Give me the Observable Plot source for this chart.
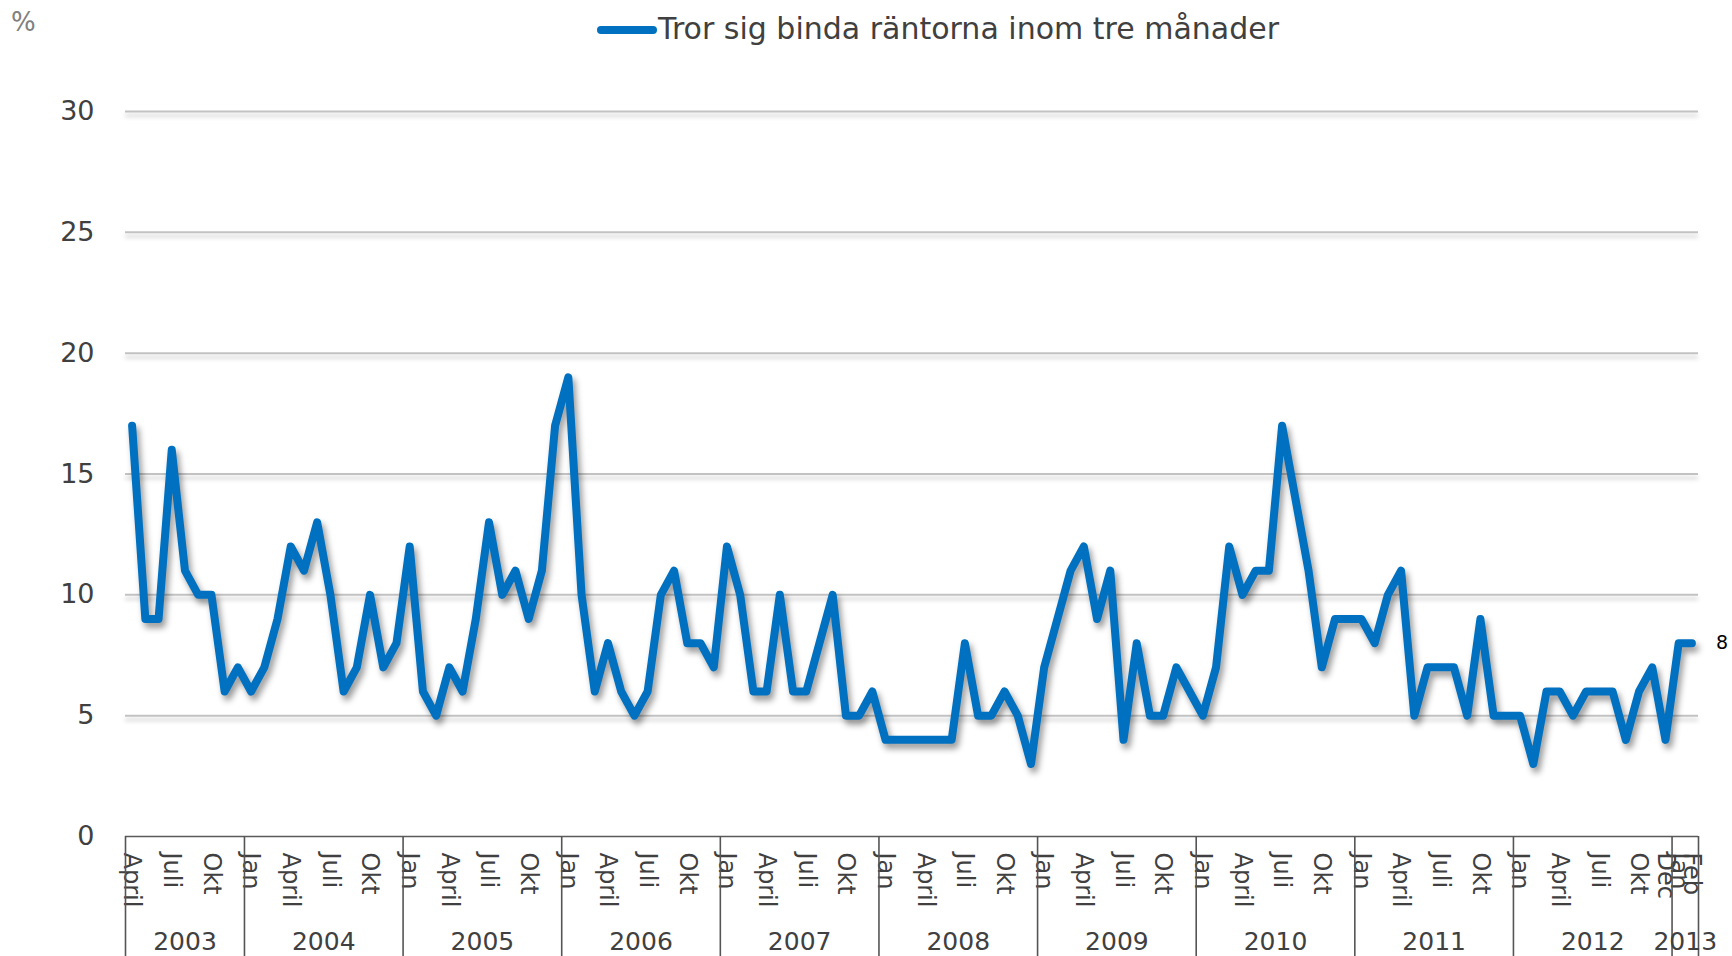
<!DOCTYPE html>
<html>
<head>
<meta charset="utf-8">
<script src="https://cdn.jsdelivr.net/npm/d3@7"></script>
<script src="https://cdn.jsdelivr.net/npm/@observablehq/plot@0.6"></script>
<style>
  html, body { margin: 0; padding: 0; background: #fff; }
  body { font-family: "DejaVu Sans", Verdana, sans-serif; }
  #wrap { width: 1732px; }
  #head { position: relative; height: 60px; }
  #pct { position: absolute; left: 11px; top: 9px; font-size: 26px; line-height: 26px; color: #808080; }
  #swatch { position: absolute; left: 597px; top: 26px; width: 60px; height: 8px; border-radius: 4px; background: #0070C0; }
  #legtext { position: absolute; left: 658px; top: 14px; font-size: 30px; line-height: 30px; color: #404040; white-space: nowrap; }
  #chart svg { display: block; overflow: visible; }
</style>
</head>
<body>
<div id="wrap">
  <div id="head">
    <div id="pct">%</div>
    <div id="swatch"></div>
    <div id="legtext"></div>
  </div>
  <div id="chart"></div>
</div>
<script>
// ---- data ----
const seriesName = "Tror sig binda räntorna inom tre månader";
const unitLabel = "%";
const startYear = 2003;
const startMonth = 3; // April (0-based month index)
const values = [
  17, 9, 9, 16, 11, 10, 10, 6, 7,                 // 2003 Apr-Dec
  6, 7, 9, 12, 11, 13, 10, 6, 7, 10, 7, 8,        // 2004
  12, 6, 5, 7, 6, 9, 13, 10, 11, 9, 11, 17,       // 2005
  19, 10, 6, 8, 6, 5, 6, 10, 11, 8, 8, 7,         // 2006
  12, 10, 6, 6, 10, 6, 6, 8, 10, 5, 5, 6,         // 2007
  4, 4, 4, 4, 4, 4, 8, 5, 5, 6, 5, 3,             // 2008
  7, 9, 11, 12, 9, 11, 4, 8, 5, 5, 7, 6,          // 2009
  5, 7, 12, 10, 11, 11, 17, 14, 11, 7, 9, 9,      // 2010
  9, 8, 10, 11, 5, 7, 7, 7, 5, 9, 5, 5,           // 2011
  5, 3, 6, 6, 5, 6, 6, 6, 4, 6, 7, 4,             // 2012
  8, 8                                            // 2013 Jan-Feb
];
const monthNames = ["Jan", "Feb", "Mars", "April", "Maj", "Juni", "Juli", "Aug", "Sep", "Okt", "Nov", "Dec"];
const years = [2003, 2004, 2005, 2006, 2007, 2008, 2009, 2010, 2011, 2012, 2013];
const yTicks = [0, 5, 10, 15, 20, 25, 30];
const gridValues = [5, 10, 15, 20, 25, 30];
const extraMonthTicks = [116, 118];

// ---- derived tables ----
const data = values.map((v, i) => ({
  i, v,
  year: startYear + Math.floor((startMonth + i) / 12),
  month: (startMonth + i) % 12
}));
const monthTicks = d3.range(0, values.length, 3).concat(extraMonthTicks);
const yearCenters = years.map(y => {
  const idx = data.filter(d => d.year === y).map(d => d.i);
  return (d3.min(idx) + d3.max(idx)) / 2;
});
const yearBounds = [-0.5].concat(years.map(y => d3.max(data.filter(d => d.year === y), d => d.i) + 0.5));

document.getElementById("pct").textContent = unitLabel;
document.getElementById("legtext").textContent = seriesName;

const last = data[data.length - 1];

const chart = Plot.plot({
  width: 1732,
  height: 896,
  marginTop: 51,
  marginBottom: 120,
  marginLeft: 125,
  marginRight: 34,
  style: { fontFamily: "DejaVu Sans, Verdana, sans-serif", background: "transparent", overflow: "visible" },
  x: { type: "linear", domain: [-0.5, values.length - 0.5] },
  y: { domain: [0, 30] },
  marks: [
    Plot.ruleY(gridValues, { stroke: "#c2c2c2", strokeWidth: 2 }),
    Plot.ruleY([0], { stroke: "#5a5a5a", strokeWidth: 1.5 }),
    Plot.axisY({ ticks: yTicks, tickSize: 0, tickPadding: 31, fontSize: 27, color: "#404040", label: null, tickFormat: d => String(d) }),
    Plot.axisX({
      ticks: monthTicks,
      tickFormat: i => monthNames[(startMonth + i) % 12],
      tickRotate: 90,
      textAnchor: "start",
      lineAnchor: "middle",
      tickSize: 0,
      tickPadding: 16,
      fontSize: 24,
      color: "#404040",
      label: null
    }),
    Plot.axisX({ ticks: yearBounds, tickFormat: () => "", tickSize: 120, stroke: "#555555", strokeWidth: 1.6, label: null }),
    Plot.axisX({
      ticks: yearCenters,
      tickFormat: d => String(years[yearCenters.indexOf(d)]),
      tickSize: 0,
      tickPadding: 96,
      fontSize: 25,
      color: "#404040",
      label: null
    }),
    Plot.line(data, { x: "i", y: "v", stroke: "#0070C0", strokeWidth: 8, strokeLinejoin: "round", strokeLinecap: "round" }),
    Plot.text([last], { x: "i", y: "v", text: d => String(d.v), dx: 24, textAnchor: "start", fontSize: 19, fill: "#000" })
  ]
});

document.getElementById("chart").appendChild(chart);

// soft shadows like the original
const svg = d3.select(chart);
const rules = svg.selectAll('g[aria-label="rule"]').nodes();
if (rules[0]) rules[0].style.filter = "drop-shadow(0px 4px 2px rgba(0,0,0,0.22))";
svg.selectAll('g[aria-label="line"]').style("filter", "drop-shadow(3px 5px 3px rgba(0,0,0,0.4))");
</script>
</body>
</html>
